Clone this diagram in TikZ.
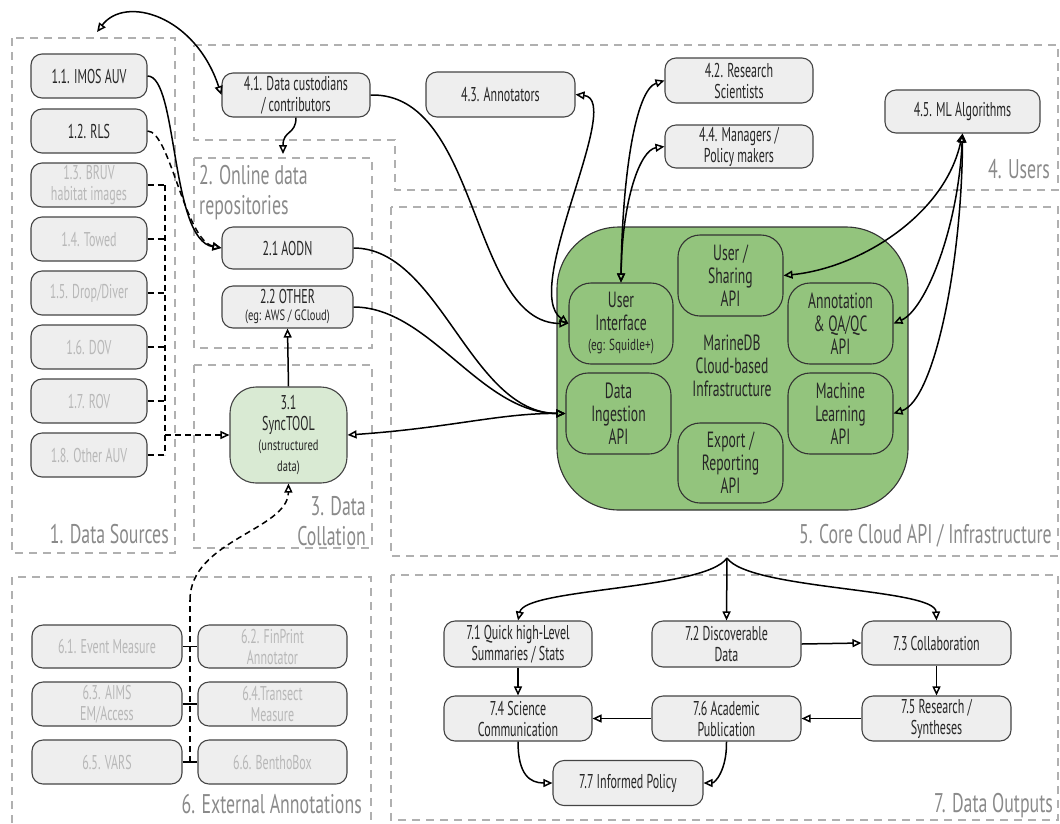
\documentclass[tikz,border=0pt]{standalone}
\usepackage{fontspec}
\setmainfont{PT Sans}[FakeStretch=0.6]
\newfontfamily\labfont{PT Sans}[FakeStretch=0.66]
\newfontfamily\smallfnt{PT Sans}[FakeStretch=0.7]
\newfontfamily\apifont{PT Sans}[FakeStretch=0.62]
\usetikzlibrary{arrows.meta}
\definecolor{secgray}{HTML}{B0B0B0}
\definecolor{labgray}{HTML}{8A8A8A}
\definecolor{nodefill}{HTML}{EEEEEE}
\definecolor{nodeline}{HTML}{444444}
\definecolor{faint}{HTML}{B8B8B8}
\definecolor{coregreen}{HTML}{93C47D}
\definecolor{syncgreen}{HTML}{D9EAD3}
\newcommand{\smtxt}{\smallfnt\fontsize{15}{15}\selectfont}
\begin{document}
\begin{tikzpicture}[x=1pt,y=-1pt,
  box/.style={draw=nodeline, fill=nodefill, line width=1.1pt, rounded corners=11pt, align=center, inner sep=1pt, text=black!85, font=\fontsize{20}{21}\selectfont},
  faintbox/.style={box, text=faint},
  api/.style={draw=black!80, line width=1.1pt, rounded corners=22pt, align=center, inner sep=1pt, minimum width=105pt, minimum height=81pt, font=\apifont\fontsize{22}{23}\selectfont, text=black!85},
  sec/.style={draw=secgray, line width=2pt, dash pattern=on 8pt off 6pt},
  seclab/.style={text=labgray, font=\labfont\fontsize{27}{30}\selectfont, inner sep=0pt},
  tip/.tip={Triangle[open,length=9pt,width=8pt]},
  conn/.style={draw=black, line width=1.5pt, -tip},
  conn2/.style={draw=black, line width=1.5pt, tip-tip},
  plain/.style={draw=black, line width=1.5pt},
  dconn/.style={draw=black, line width=1.5pt, dash pattern=on 6pt off 4pt},
  sw/.style={minimum width=116pt, minimum height=44pt}
]
\useasboundingbox (0,0) rectangle (1060,823);

% section boxes
\draw[sec] (12,38) rectangle (175,553);
\draw[sec] (194,45) -- (1058,45) -- (1058,190) -- (395,190) -- (395,140) -- (194,140) -- cycle;
\draw[sec] (194,158) rectangle (372,348);
\draw[sec] (194,365) rectangle (372,548);
\draw[sec] (391,207) rectangle (1058,556);
\draw[sec] (12,823) -- (12,577) -- (371,577) -- (371,823);
\draw[sec] (391,575) rectangle (1058,820);

\node[seclab, anchor=base east] (l1) at (169,543) {1. Data Sources};
\node[seclab, anchor=north west, align=left] (l2) at (199,165) {2. Online data\\repositories};
\node[seclab, anchor=south east, align=right] (l3) at (366,546) {3. Data\\Collation};
\node[seclab, anchor=base east] (l4) at (1050,178) {4. Users};
\node[seclab, anchor=base east] (l5) at (1052,543) {5. Core Cloud API / Infrastructure};
\node[seclab, anchor=base east] (l6) at (362,813) {6. External Annotations};
\node[seclab, anchor=base east] (l7) at (1053,812) {7. Data Outputs};

% 1. data sources
\node[box, sw] (n11) at (89,76) {1.1. IMOS AUV};
\node[box, sw] (n12) at (89,131) {1.2. RLS};
\node[faintbox, sw] (n13) at (89,185) {1.3. BRUV\\habitat images};
\node[faintbox, sw] (n14) at (89,239) {1.4. Towed};
\node[faintbox, sw] (n15) at (89,293) {1.5. Drop/Diver};
\node[faintbox, sw] (n16) at (89,347) {1.6. DOV};
\node[faintbox, sw] (n17) at (89,401) {1.7. ROV};
\node[faintbox, sw] (n18) at (89,455) {1.8. Other AUV};

% 2. repositories
\node[box, minimum width=131pt, minimum height=42pt] (n21) at (287.5,248) {2.1 AODN};
\node[box, minimum width=131pt, minimum height=42pt] (n22) at (287.5,307) {2.2 OTHER\\[-4pt]\smtxt (eg: AWS / GCloud)};

% 3. SyncTOOL
\node[box, fill=syncgreen, rounded corners=26pt, minimum width=117pt, minimum height=96pt] (n31) at (288.5,435) {3.1\\SyncTOOL\\[-1pt]\smtxt (unstructured\\\smtxt data)};

% 4. users
\node[box, minimum width=148pt, minimum height=44pt] (n41) at (296,95) {4.1. Data custodians\\/ contributors};
\node[box, minimum width=149pt, minimum height=45pt] (n43) at (500.5,94.5) {4.3. Annotators};
\node[box, minimum width=148pt, minimum height=45pt] (n42) at (739,80.5) {4.2. Research\\Scientists};
\node[box, minimum width=148pt, minimum height=43pt] (n44) at (739,146.5) {4.4. Managers /\\Policy makers};
\node[box, minimum width=155pt, minimum height=43pt] (n45) at (962.5,111.5) {4.5. ML Algorithms};

% 5. core
\node[draw=black!80, fill=coregreen, line width=1.1pt, rounded corners=62pt, minimum width=351pt, minimum height=283pt] (core) at (732.5,368.5) {};
\node[align=center, font=\apifont\fontsize{22}{23}\selectfont, text=black!85] (coretxt) at (732,366) {MarineDB\\Cloud-based\\Infrastructure};
\node[api, minimum width=104pt] (ui) at (621,323.5) {User\\Interface\\[-3pt]\smallfnt\fontsize{16}{16}\selectfont (eg: Squidle+)};
\node[api] (usr) at (730.5,275.5) {User /\\Sharing\\API};
\node[api] (ann) at (840.5,323.5) {Annotation\\\& QA/QC\\API};
\node[api] (ing) at (618.5,413.5) {Data\\Ingestion\\API};
\node[api] (ml) at (840.5,413.5) {Machine\\Learning\\API};
\node[api, minimum height=80pt] (exp) at (730.5,463) {Export /\\Reporting\\API};

% 6. external annotations
\node[faintbox, minimum width=150pt, minimum height=43pt] (n61) at (107,646.5) {6.1. Event Measure};
\node[faintbox, minimum width=149pt, minimum height=43pt] (n62) at (272.5,646.5) {6.2. FinPrint\\Annotator};
\node[faintbox, minimum width=150pt, minimum height=44pt] (n63) at (107,704) {6.3. AIMS\\EM/Access};
\node[faintbox, minimum width=149pt, minimum height=44pt] (n64) at (272.5,704) {6.4.Transect\\Measure};
\node[faintbox, minimum width=150pt, minimum height=44pt] (n65) at (107,762) {6.5. VARS};
\node[faintbox, minimum width=149pt, minimum height=44pt] (n66) at (272.5,762) {6.6. BenthoBox};

% 7. data outputs
\node[box, minimum width=148pt, minimum height=46pt] (n71) at (518,644) {7.1 Quick high-Level\\Summaries / Stats};
\node[box, minimum width=149pt, minimum height=46pt] (n72) at (726.5,644) {7.2 Discoverable\\Data};
\node[box, minimum width=149pt, minimum height=44pt] (n73) at (936.5,643) {7.3 Collaboration};
\node[box, minimum width=148pt, minimum height=45pt] (n74) at (518,718.5) {7.4 Science\\Communication};
\node[box, minimum width=149pt, minimum height=45pt] (n76) at (726.5,718.5) {7.6 Academic\\Publication};
\node[box, minimum width=149pt, minimum height=45pt] (n75) at (936.5,718.5) {7.5 Research /\\Syntheses};
\node[box, minimum width=150pt, minimum height=45pt] (n77) at (628,783) {7.7 Informed Policy};

% coordinates
\coordinate (top1) at (97,32);
\coordinate (s2top) at (283,154);
\coordinate (busT) at (165,185);
\coordinate (busB) at (165,455);
\coordinate (busJ) at (165,435);
\coordinate (e6) at (190,762);
\coordinate (e6t) at (190,600);
\coordinate (fork) at (727,558);

% connectors: sources
\draw[conn2] (top1) .. controls (125,-5) and (195,15) .. (n41.west);
\draw[conn] (n41.south) .. controls (296,135) and (283,130) .. (s2top);
\draw[conn] (n11.east) .. controls (178,76) and (170,240) .. (n21.west);
\draw[conn, dash pattern=on 6pt off 4pt] (n12.east) .. controls (170,131) and (185,240) .. (n21.west);
\foreach \n/\yy in {n13/185,n14/239,n15/293,n16/347,n17/401,n18/455}{
  \draw[dconn] (\n.east) -- (165,\yy);
}
\draw[dconn] (busT) -- (busB);
\draw[conn, dash pattern=on 6pt off 4pt] (busJ) -- (n31.west);
\draw[conn] (n31.north) -- (n22.south);

% to core
\draw[conn2] (n31.east) .. controls (450,428) and (500,413) .. (ing.west);
\draw[conn] (n21.east) .. controls (440,248) and (470,413) .. (ing.west);
\draw[conn] (n22.east) .. controls (430,307) and (480,413) .. (ing.west);
\draw[conn] (n41.east) .. controls (480,92) and (470,323) .. (ui.west);
\draw[conn2] (n43.east) .. controls (625,100) and (520,290) .. (ui.west);
\draw[conn2] (n42.west) .. controls (635,90) and (622,180) .. (ui.north);
\draw[conn2] (n44.west) .. controls (640,150) and (622,200) .. (ui.north);
\draw[conn2] (n45.south) .. controls (945,215) and (860,268) .. (usr.east);
\draw[conn2] (n45.south) .. controls (958,230) and (925,310) .. (ann.east);
\draw[conn2] (n45.south) .. controls (962,260) and (935,400) .. (ml.east);

% external annotations
\draw[plain] (n61.east) -- (n62.west);
\draw[plain] (n63.east) -- (n64.west);
\draw[plain] (n65.east) -- (n66.west);
\draw[dconn] (e6) -- (e6t);
\draw[conn, dash pattern=on 6pt off 4pt] (e6t) .. controls (190,540) and (288,530) .. (n31.south);

% outputs
\draw[conn] (fork) .. controls (705,590) and (525,588) .. (n71.north);
\draw[conn] (fork) -- (n72.north);
\draw[conn] (fork) .. controls (749,590) and (935,588) .. (n73.north);
\draw[conn] (n72.east) -- (n73.west);
\draw[conn] (n71.south) -- (n74.north);
\draw[conn] (n73.south) -- (n75.north);
\draw[conn] (n75.west) -- (n76.east);
\draw[conn] (n76.west) -- (n74.east);
\draw[conn] (n74.south) .. controls (518,775) and (530,783) .. (n77.west);
\draw[conn] (n76.south) .. controls (727,770) and (715,783) .. (n77.east);
\end{tikzpicture}
\end{document}
